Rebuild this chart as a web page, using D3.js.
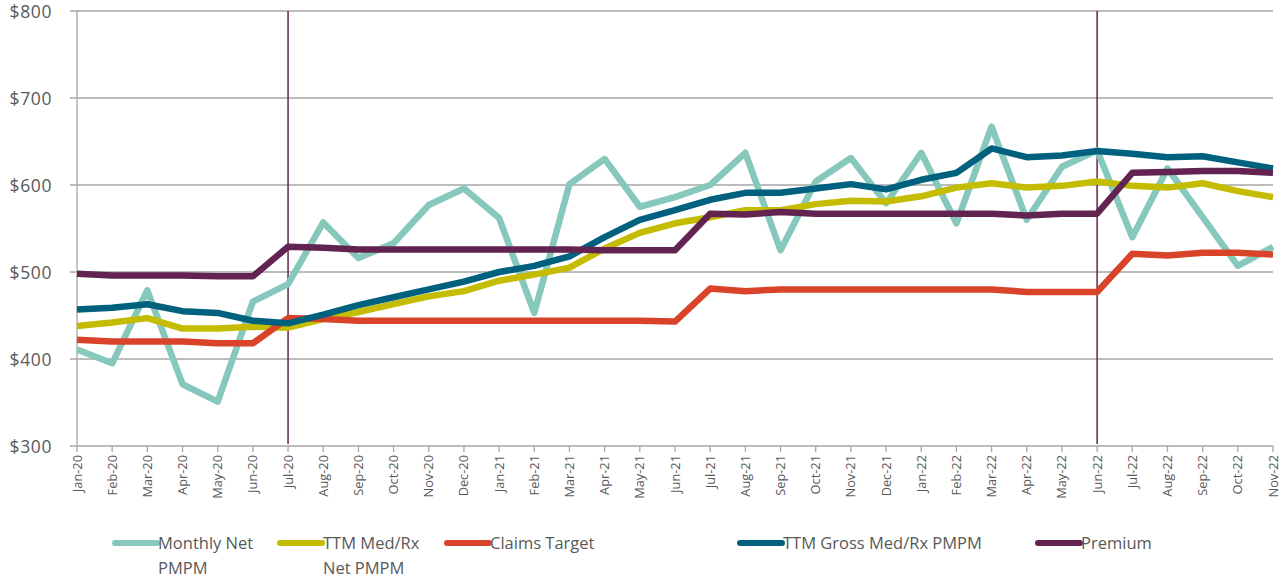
<!DOCTYPE html>
<meta charset="utf-8">
<style>
body { margin: 0; background: #fff; }
text { font-family: "Open Sans", sans-serif; fill: #595959; }
</style>
<body>
<svg id="chart" width="1283" height="578"></svg>
<script src="https://cdn.jsdelivr.net/npm/d3@7"></script>
<script>

var months = ["Jan-20","Feb-20","Mar-20","Apr-20","May-20","Jun-20","Jul-20","Aug-20","Sep-20","Oct-20","Nov-20","Dec-20",
  "Jan-21","Feb-21","Mar-21","Apr-21","May-21","Jun-21","Jul-21","Aug-21","Sep-21","Oct-21","Nov-21","Dec-21",
  "Jan-22","Feb-22","Mar-22","Apr-22","May-22","Jun-22","Jul-22","Aug-22","Sep-22","Oct-22","Nov-22"];

var monthlyNet = [411,395,479,371,351,466,486,557,516,533,577,596,562,453,601,630,575,586,600,637,525,604,631,579,637,556,667,560,621,640,540,619,563,507,529];
var ttmNet     = [438,442,447,435,435,437,436,446,454,463,472,478,490,497,505,527,545,556,563,571,571,578,582,581,587,597,602,597,599,604,599,597,602,593,586];
var claimsTarget = [422,420,420,420,418,418,447,446,444,444,444,444,444,444,444,444,444,443,481,478,480,480,480,480,480,480,480,477,477,477,521,519,522,522,520];
var ttmGross   = [457,459,463,455,453,444,441,451,462,471,480,489,500,507,518,540,560,571,583,591,591,596,601,595,606,614,642,632,634,639,636,632,633,626,619];
var premium    = [498,496,496,496,495,495,529,528,526,526,526,526,526,526,526,525,525,525,567,566,569,567,567,567,567,567,567,565,567,567,614,615,616,616,614];

var yTicks = [300,400,500,600,700,800];
var markerMonths = ["Jul-20","Jun-22"];

var series = [
  {name: ["Monthly Net","PMPM"], values: monthlyNet, color: "#86C8BC"},
  {name: ["TTM Med/Rx","Net PMPM"], values: ttmNet, color: "#C4BC00"},
  {name: ["Claims Target"], values: claimsTarget, color: "#D9432A"},
  {name: ["TTM Gross Med/Rx PMPM"], values: ttmGross, color: "#00617F"},
  {name: ["Premium"], values: premium, color: "#632350"}
];

var plotL = 77, plotR = 1273, plotT = 11, plotB = 446;
var svg = d3.select("#chart");

var x = d3.scalePoint().domain(months).range([plotL, plotR]);
var y = d3.scaleLinear().domain([300, 800]).range([plotB, plotT]);

// gridlines
svg.append("g").selectAll("line").data(yTicks).join("line")
  .attr("x1", plotL - 7).attr("x2", plotR)
  .attr("y1", d => y(d)).attr("y2", d => y(d))
  .attr("stroke", "#A6A6A6").attr("stroke-width", 1.3);

// y axis line
svg.append("line").attr("x1", plotL).attr("x2", plotL).attr("y1", plotT).attr("y2", plotB)
  .attr("stroke", "#A6A6A6").attr("stroke-width", 1.3);

svg.append("g").selectAll("text").data(yTicks).join("text")
  .attr("x", 52).attr("y", d => y(d) + 1).attr("dy", "0.35em")
  .attr("text-anchor", "end").style("font-size", "17.5px").style("letter-spacing", "0.6px")
  .text(d => "$" + d);

// x ticks and labels
svg.append("g").selectAll("line").data(months).join("line")
  .attr("x1", d => x(d)).attr("x2", d => x(d))
  .attr("y1", plotB).attr("y2", plotB + 6)
  .attr("stroke", "#A6A6A6").attr("stroke-width", 1.3);

svg.append("g").selectAll("text").data(months).join("text")
  .attr("transform", d => "translate(" + (x(d) + 4.5) + "," + (plotB + 9) + ") rotate(-90)")
  .attr("text-anchor", "end").style("font-size", "12.8px")
  .text(d => d);

// vertical markers
svg.append("g").selectAll("line").data(markerMonths).join("line")
  .attr("x1", d => x(d)).attr("x2", d => x(d))
  .attr("y1", plotT).attr("y2", plotB - 2)
  .attr("stroke", "#632350").attr("stroke-width", 1.5);

var line = d3.line().x((d, i) => x(months[i])).y(d => y(d));

svg.append("g").selectAll("path").data(series).join("path")
  .attr("d", d => line(d.values))
  .attr("fill", "none")
  .attr("stroke", d => d.color)
  .attr("stroke-width", 6.5)
  .attr("stroke-linejoin", "round");

// legend
var legendX = [115, 280, 447, 740, 1038];
var lg = svg.append("g").selectAll("g").data(series).join("g")
  .attr("transform", (d, i) => "translate(" + legendX[i] + ",543)");
lg.append("line").attr("x1", 0).attr("x2", 42).attr("y1", 0).attr("y2", 0)
  .attr("stroke", d => d.color).attr("stroke-width", 6).attr("stroke-linecap", "round");
lg.append("text").attr("x", 43).attr("y", 6).style("font-size", "16.5px")
  .selectAll("tspan").data(d => d.name).join("tspan")
  .attr("x", 43).attr("dy", (d, i) => i ? 25 : 0)
  .text(d => d);

</script>
</body>
